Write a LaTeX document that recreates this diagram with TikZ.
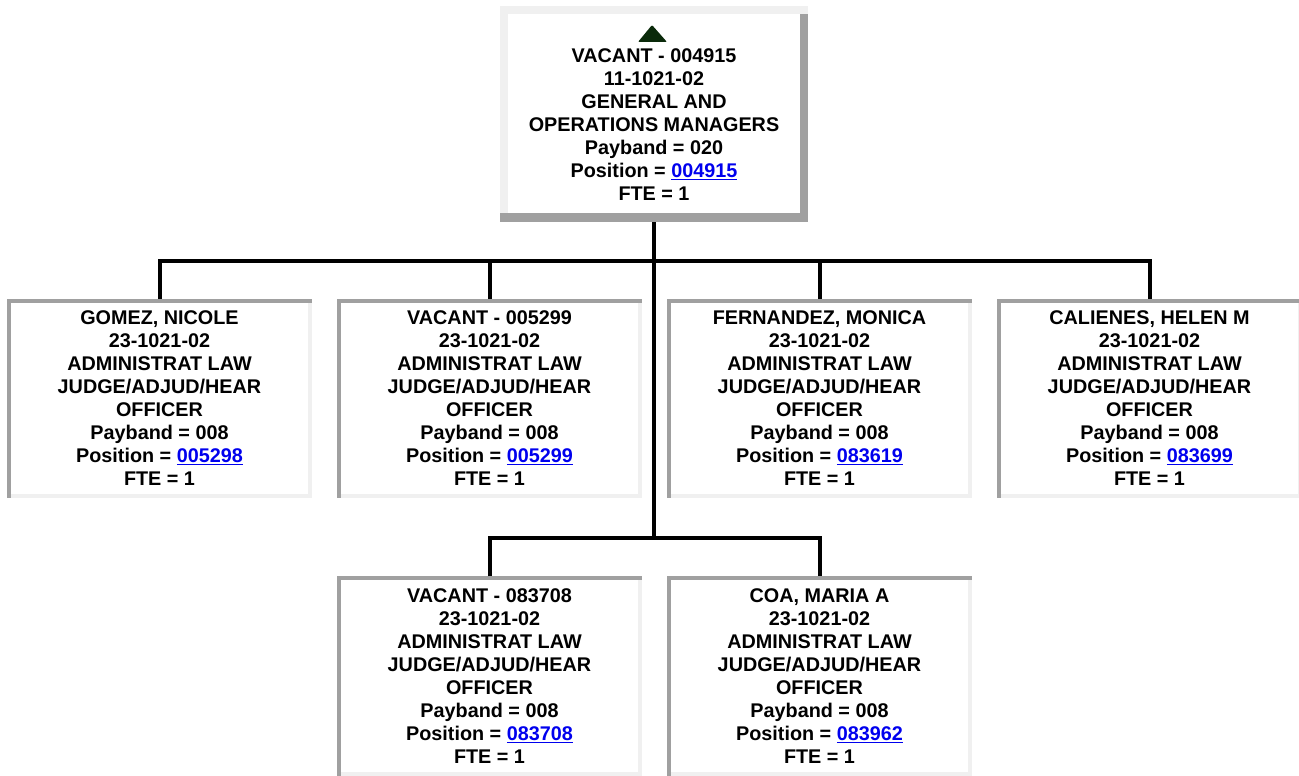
\documentclass[tikz,border=0pt]{standalone}
\usepackage{fontspec}
\setmainfont{Liberation Sans}
\usetikzlibrary{calc}
\definecolor{bdark}{HTML}{A0A0A0}
\definecolor{blight}{HTML}{F0F0F0}
\definecolor{linkblue}{HTML}{0000EE}
\definecolor{tri}{HTML}{0A2A0A}
\newcommand{\plink}[1]{\textcolor{linkblue}{\underline{#1}}}
\newcommand{\inset}[1]{%
  \fill[bdark] (#1.north west) rectangle ($(#1.north east)+(0,4)$);
  \fill[bdark] (#1.north west) rectangle ($(#1.south west)+(4,0)$);
  \fill[blight] ($(#1.south west)+(4,-4)$) rectangle (#1.south east);
  \fill[blight] ($(#1.north east)+(-4,4)$) rectangle (#1.south east);
}
\tikzset{
  txt/.style={align=center, inner sep=0pt, font=\fontsize{19.8}{23}\selectfont\bfseries},
  childbox/.style={minimum width=305pt, minimum height=199pt, inner sep=0pt, txt},
  conn/.style={line width=4pt, black},
}
\begin{document}
\begin{tikzpicture}[x=1pt,y=-1pt]
\useasboundingbox (0,0) rectangle (1299,776);
% top box
\node[minimum width=308pt, minimum height=216pt, inner sep=0pt] (top) at (654,114) {};
\fill[blight] (top.north west) rectangle ($(top.north east)+(0,8)$);
\fill[blight] (top.north west) rectangle ($(top.south west)+(8,-9)$);
\fill[bdark] ($(top.north east)+(-8,8)$) rectangle (top.south east);
\fill[bdark] ($(top.south west)+(0,-9)$) rectangle (top.south east);
\node[txt] (toptxt) at (654,125) {VACANT - 004915\\11-1021-02\\GENERAL AND\\OPERATIONS MANAGERS\\Payband = 020\\Position = \plink{004915}\\FTE = 1};
\coordinate (tA) at (652,25);
\coordinate (tB) at (638,42);
\coordinate (tC) at (667,42);
\fill[tri, rounded corners=1pt] (tA) -- (tC) -- (tB) -- cycle;
% row 1
\node[childbox] (gomez) at (159.5,398.5) {GOMEZ, NICOLE\\23-1021-02\\ADMINISTRAT LAW\\JUDGE/ADJUD/HEAR\\OFFICER\\Payband = 008\\Position = \plink{005298}\\FTE = 1};
\node[childbox] (vacb) at (489.5,398.5) {VACANT - 005299\\23-1021-02\\ADMINISTRAT LAW\\JUDGE/ADJUD/HEAR\\OFFICER\\Payband = 008\\Position = \plink{005299}\\FTE = 1};
\node[childbox] (fern) at (819.5,398.5) {FERNANDEZ, MONICA\\23-1021-02\\ADMINISTRAT LAW\\JUDGE/ADJUD/HEAR\\OFFICER\\Payband = 008\\Position = \plink{083619}\\FTE = 1};
\node[childbox] (cal) at (1149.5,398.5) {CALIENES, HELEN M\\23-1021-02\\ADMINISTRAT LAW\\JUDGE/ADJUD/HEAR\\OFFICER\\Payband = 008\\Position = \plink{083699}\\FTE = 1};
% row 2
\node[childbox] (vacc) at (489.5,676) {VACANT - 083708\\23-1021-02\\ADMINISTRAT LAW\\JUDGE/ADJUD/HEAR\\OFFICER\\Payband = 008\\Position = \plink{083708}\\FTE = 1};
\node[childbox] (coa) at (819.5,676) {COA, MARIA A\\23-1021-02\\ADMINISTRAT LAW\\JUDGE/ADJUD/HEAR\\OFFICER\\Payband = 008\\Position = \plink{083962}\\FTE = 1};
\inset{gomez}
\inset{vacb}
\inset{fern}
\inset{cal}
\inset{vacc}
\inset{coa}
% connectors
\coordinate (j1) at (654,261);
\coordinate (j2) at (654,538);
\draw[conn] (top.south) -- (j2);
\draw[conn] (gomez.north) |- (j1) -| (cal.north);
\draw[conn] (vacb.north) -- (vacb.north |- j1);
\draw[conn] (fern.north) -- (fern.north |- j1);
\draw[conn] (vacc.north) |- (j2) -| (coa.north);
\end{tikzpicture}
\end{document}
